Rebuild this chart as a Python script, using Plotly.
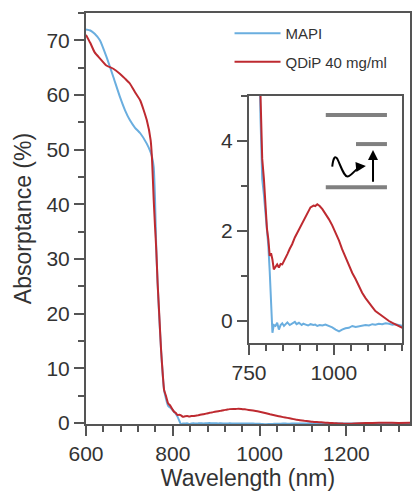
import plotly.graph_objects as go

# ---- data ----
wavelength = [600, 610, 620, 632, 647, 663, 678, 690, 701, 713, 725, 740, 749, 752, 756, 759, 762, 765,
              769, 773, 777, 780, 784, 789, 794, 799, 803, 807, 811, 815, 819, 823, 828, 833, 838, 843,
              848, 853, 858, 863, 870, 877, 885, 890, 897, 905, 910, 917, 924, 931, 940, 945, 951, 958,
              966, 975, 985, 995, 1005, 1015, 1024, 1034, 1044, 1054, 1064, 1074, 1083, 1093, 1103, 1113,
              1122, 1132, 1142, 1152, 1162, 1172, 1181, 1191, 1201, 1230, 1260, 1290, 1320, 1350]

mapi = [72.0, 71.8, 71.2, 70.0, 67.0, 63.3, 59.7, 57.2, 55.4, 54.0, 53.0, 51.1, 49.5, 48.7, 46.8, 41.0, 31.6, 25.6,
        19.0, 13.3, 8.5, 6.0, 4.5, 3.15, 2.8, 2.41, 2.0, 1.66, 1.1, 0.4, -0.27, -0.1, -0.12, -0.05, -0.2, -0.1,
        -0.06, -0.12, -0.09, -0.04, -0.1, -0.07, -0.03, -0.08, -0.05, -0.1, -0.07, -0.09, -0.11, -0.08, -0.1, -0.09, -0.12, -0.1,
        -0.11, -0.09, -0.12, -0.15, -0.2, -0.24, -0.2, -0.17, -0.16, -0.12, -0.14, -0.13, -0.12, -0.1, -0.11, -0.08,
        -0.09, -0.07, -0.08, -0.06, -0.07, -0.09, -0.08, -0.1, -0.12, -0.12, -0.1, -0.12, -0.11, -0.1]

qdip = [71.0, 69.5, 67.8, 66.7, 65.4, 64.8, 63.9, 63.0, 62.1, 60.5, 59.0, 55.4, 51.7, 48.5, 40.8, 36.0, 31.6, 25.6,
        19.5, 13.3, 8.8, 6.0, 5.0, 3.6, 3.15, 2.5, 2.04, 1.81, 1.44, 1.5, 1.36, 1.14, 1.2, 1.25, 1.18, 1.26,
        1.25, 1.32, 1.38, 1.48, 1.6, 1.7, 1.85, 1.92, 2.04, 2.15, 2.2, 2.33, 2.42, 2.52, 2.56, 2.55, 2.59, 2.55,
        2.48, 2.38, 2.26, 2.12, 1.96, 1.78, 1.59, 1.4, 1.21, 1.06, 0.92, 0.76, 0.62, 0.5, 0.39, 0.3,
        0.21, 0.15, 0.1, 0.05, -0.01, -0.05, -0.09, -0.12, -0.16, -0.05, 0.0, 0.02, 0.0, 0.02]

series_names = ["MAPI", "QDiP 40 mg/ml"]
colors = ["#6aaedf", "#be2a30"]

FONT = "Liberation Sans, Arial, sans-serif"
AX = "#555555"

fig = go.Figure()
for name, vals, col, grp in zip(series_names, [mapi, qdip], colors, ["a", "b"]):
    fig.add_trace(go.Scatter(x=wavelength, y=vals, mode="lines", name=name, legendgroup=grp,
                             line=dict(color=col, width=2, shape="spline", smoothing=0.5),
                             xaxis="x", yaxis="y"))
for vals, col in zip([mapi, qdip], colors):
    fig.add_trace(go.Scatter(x=wavelength, y=vals, mode="lines", showlegend=False,
                             line=dict(color=col, width=2), xaxis="x2", yaxis="y2", cliponaxis=True))

common = dict(showline=True, linecolor=AX, linewidth=2, mirror=True, showgrid=False, zeroline=False,
              ticks="outside", tickcolor=AX, tickwidth=2, ticklen=10,
              tickfont=dict(family=FONT, size=21, color="#333333"))

fig.update_layout(
    width=413, height=491,
    margin=dict(l=86, r=1, t=13, b=67),
    paper_bgcolor="white", plot_bgcolor="white",
    font=dict(family=FONT, color="#333333"),
    xaxis=dict(domain=[0, 1], range=[600, 1346.5], tick0=600, dtick=200, anchor="y",
               minor=dict(tick0=600, dtick=40, ticks="outside", ticklen=6, tickwidth=1.5, tickcolor=AX),
               title=dict(text="Wavelength (nm)", font=dict(family=FONT, size=23, color="#333333"), standoff=6),
               **common),
    yaxis=dict(domain=[0, 1], range=[-0.2, 75], tick0=0, dtick=10, anchor="x",
               minor=dict(tick0=0, dtick=5, ticks="outside", ticklen=6, tickwidth=1.5, tickcolor=AX),
               title=dict(text="Absorptance (%)", font=dict(family=FONT, size=23, color="#333333"), standoff=8),
               **common),
    xaxis2=dict(domain=[0.503, 0.975], range=[750, 1200], tick0=750, dtick=250, anchor="y2",
                minor=dict(tick0=750, dtick=50, ticks="outside", ticklen=6, tickwidth=1.5, tickcolor=AX),
                **common),
    yaxis2=dict(domain=[0.197, 0.798], range=[-0.5, 5], tick0=0, dtick=2, anchor="x2",
                minor=dict(tick0=0, dtick=1, ticks="outside", ticklen=6, tickwidth=1.5, tickcolor=AX),
                **common),
    legend=dict(x=0.443, y=0.99, xanchor="left", yanchor="top", bgcolor="rgba(0,0,0,0)",
                font=dict(family=FONT, size=15, color="#333333"), itemwidth=46, tracegroupgap=6),
)

# ---- energy-level icon inside the inset (decoration) ----
BAR = "#808080"
for x0, x1, yv in [(976, 1156, 4.58), (1065, 1156, 3.93), (976, 1156, 2.97)]:
    fig.add_shape(type="line", xref="x2", yref="y2", x0=x0, x1=x1, y0=yv, y1=yv,
                  line=dict(color=BAR, width=4))
fig.add_shape(type="path", xref="x2", yref="y2",
              path="M 995,3.43 C 998,3.62 1003,3.68 1010,3.6 C 1020,3.45 1030,3.18 1042,3.21 C 1055,3.24 1066,3.42 1084,3.43",
              line=dict(color="black", width=2))
fig.add_annotation(xref="x2", yref="y2", axref="x2", ayref="y2", x=1094, y=3.44, ax=1080, ay=3.43,
                   text="", showarrow=True, arrowhead=2, arrowsize=1, arrowwidth=2, arrowcolor="black", standoff=0)
fig.add_annotation(xref="x2", yref="y2", axref="x2", ayref="y2", x=1115, y=3.8, ax=1115, ay=3.06,
                   text="", showarrow=True, arrowhead=2, arrowsize=1, arrowwidth=2, arrowcolor="black", standoff=0)

fig.write_html("out.html")
